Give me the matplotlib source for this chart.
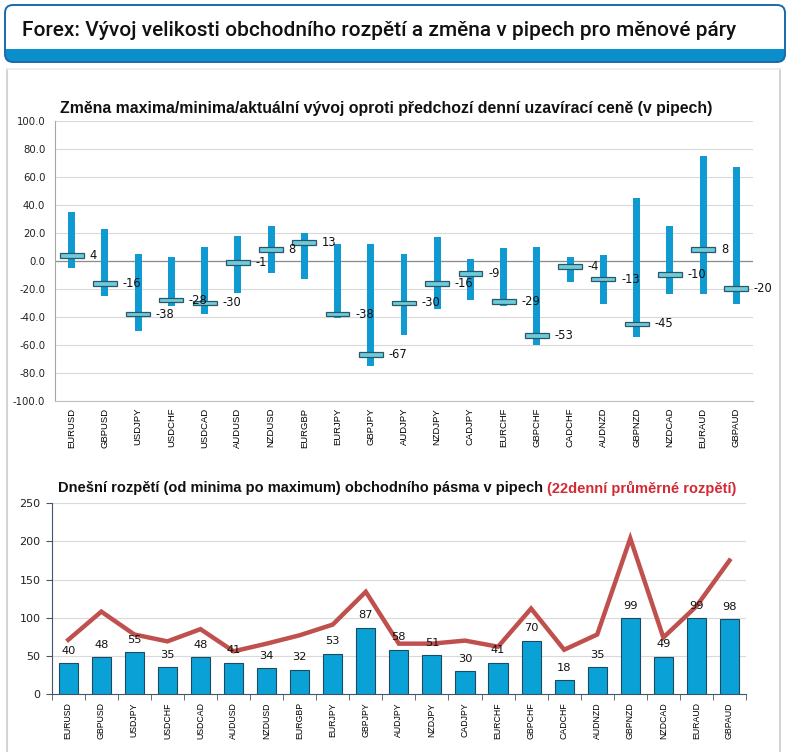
import matplotlib
matplotlib.use('Agg')
import matplotlib.pyplot as plt
from matplotlib.patches import FancyBboxPatch, Rectangle
from matplotlib.lines import Line2D
from matplotlib.transforms import IdentityTransform
import numpy as np

# ---------------- data ----------------
pairs = ["EURUSD", "GBPUSD", "USDJPY", "USDCHF", "USDCAD", "AUDUSD", "NZDUSD",
         "EURGBP", "EURJPY", "GBPJPY", "AUDJPY", "NZDJPY", "CADJPY", "EURCHF",
         "GBPCHF", "CADCHF", "AUDNZD", "GBPNZD", "NZDCAD", "EURAUD", "GBPAUD"]
high_change = [35, 23, 5, 3, 10, 18, 25, 20, 12, 12, 5, 17, 1.5, 9, 10, 3, 4, 45, 25, 75, 67]
low_change = [-5, -25, -50, -32, -38, -23, -9, -13, -41, -75, -53, -34, -28, -32, -60,
              -15, -31, -54, -24, -24, -31]
current_change = [4, -16, -38, -28, -30, -1, 8, 13, -38, -67, -30, -16, -9, -29, -53,
                  -4, -13, -45, -10, 8, -20]
range_today = [40, 48, 55, 35, 48, 41, 34, 32, 53, 87, 58, 51, 30, 41, 70, 18, 35, 99, 49, 99, 98]
avg_range_22 = [71, 108, 78, 69, 85, 56, 66, 77, 91, 134, 66, 66, 70, 62, 112, 58, 78, 204,
                74, 115, 175]
top_yticks = [-100, -80, -60, -40, -20, 0, 20, 40, 60, 80, 100]
bottom_yticks = [0, 50, 100, 150, 200, 250]

main_title = "Forex: Vývoj velikosti obchodního rozpětí a změna v pipech pro měnové páry"
top_title = "Změna maxima/minima/aktuální vývoj oproti předchozí denní uzavírací ceně (v pipech)"
bottom_title_a = "Dnešní rozpětí (od minima po maximum) obchodního pásma v pipech "
bottom_title_b = "(22denní průměrné rozpětí)"

# ---------------- figure ----------------
W, H = 790, 752
fig = plt.figure(figsize=(W / 100, H / 100), dpi=100)
fig.patch.set_facecolor("white")
ident = IdentityTransform()

# header box
hx0, hx1 = 5, 785
htop, hbot = 5, 62
fig.patches.append(FancyBboxPatch((hx0, H - hbot), hx1 - hx0, hbot - htop,
                                  boxstyle="round,pad=0,rounding_size=8",
                                  fc="#0a8fcc", ec="none", transform=ident, figure=fig))
fig.patches.append(FancyBboxPatch((hx0, H - 57), hx1 - hx0, 57 - htop,
                                  boxstyle="round,pad=0,rounding_size=8",
                                  fc="white", ec="none", transform=ident, figure=fig))
fig.patches.append(Rectangle((hx0 + 1, H - 58), hx1 - hx0 - 2, 9,
                             fc="#0a8fcc", ec="none", transform=ident, figure=fig))
fig.patches.append(FancyBboxPatch((hx0, H - hbot), hx1 - hx0, hbot - htop,
                                  boxstyle="round,pad=0,rounding_size=8",
                                  fc="none", ec="#1a6aaa", lw=1.4, transform=ident, figure=fig))

# panel borders
for xx in (7, 780):
    fig.lines.append(Line2D([xx, xx], [0, H - 69], color="#d4d4d4", lw=1.5,
                            transform=ident, figure=fig))
fig.lines.append(Line2D([7, 780], [H - 69, H - 69], color="#ececec", lw=1.2,
                        transform=ident, figure=fig))

renderer = fig.canvas.get_renderer()


def fit_texts(parts, x_left, y_center, target_w, size0, **kw):
    objs = []
    for txt, color in parts:
        t = fig.text(0, 0, txt, color=color, transform=ident, va="center", ha="left",
                     fontsize=size0, **kw)
        objs.append(t)
    total = sum(t.get_window_extent(renderer).width for t in objs)
    scale = target_w / total
    for t in objs:
        t.set_fontsize(size0 * scale)
    x = x_left
    for t in objs:
        t.set_position((x, H - y_center))
        x += t.get_window_extent(renderer).width
    return objs


fit_texts([(main_title, "#111111")], 22, 30, 713, 14, fontweight="medium",
          family=["Roboto", "DejaVu Sans"])
fit_texts([(top_title, "#111111")], 60, 108, 653, 10.5, fontweight="bold",
          family=["Liberation Sans", "DejaVu Sans"])
fit_texts([(bottom_title_a, "#111111"), (bottom_title_b, "#d42a35")], 58, 488, 679, 10.5,
          fontweight="bold", family=["Liberation Sans", "DejaVu Sans"])

x = np.arange(len(pairs))

# ---------------- top chart ----------------
ax1 = fig.add_axes([55 / W, 1 - 401 / H, (753 - 55) / W, (401 - 120.7) / H])
ax1.set_xlim(-0.5, len(pairs) - 0.5)
ax1.set_ylim(-100, 100)
ax1.set_yticks(top_yticks)
ax1.set_yticklabels([f"{v:.1f}" for v in top_yticks])
for v in top_yticks:
    ax1.axhline(v, color="#d9d9d9", lw=0.8, zorder=0)
ax1.axhline(0, color="#8c8c8c", lw=0.9, zorder=1)
hi = np.array(high_change)
lo = np.array(low_change)
ax1.bar(x, hi - lo, bottom=lo, width=0.21, color="#0f9ad2", zorder=2)
cur = np.array(current_change)
ax1.bar(x, 3.4, bottom=cur - 1.7, width=0.72, color="#6ccbdf", edgecolor="#2f5663",
        linewidth=0.9, zorder=3)
for xi, v in zip(x, current_change):
    ax1.text(xi + 0.53, v, f"{v}", va="center", ha="left", fontsize=8.3,
             family="DejaVu Sans", color="#111111", zorder=4)
ax1.set_xticks(x)
ax1.set_xticklabels(pairs, rotation=90, fontsize=6.8, family="Liberation Sans")
ax1.tick_params(axis="x", length=0, pad=5)
ax1.tick_params(axis="y", length=0, pad=7, labelsize=7.3, labelcolor="#222222")
for s in ("top", "right"):
    ax1.spines[s].set_visible(False)
ax1.spines["left"].set_color("#a6a6a6")
ax1.spines["bottom"].set_color("#bfbfbf")
ax1.set_facecolor("none")

# ---------------- bottom chart ----------------
ax2 = fig.add_axes([51.7 / W, 1 - 694 / H, (746 - 51.7) / W, (694 - 503.3) / H])
ax2.set_xlim(-0.5, len(pairs) - 0.5)
ax2.set_ylim(0, 250)
ax2.set_yticks(bottom_yticks)
for v in bottom_yticks[1:]:
    ax2.axhline(v, color="#d9d9d9", lw=0.8, zorder=0)
ax2.bar(x, range_today, width=0.58, color="#0aa2d6", edgecolor="#1d4a60", linewidth=0.8,
        zorder=2)
ax2.plot(x, avg_range_22, color="#c0504d", lw=3.2, zorder=3, solid_joinstyle="miter")
for xi, v in zip(x, range_today):
    ax2.annotate(f"{v}", (xi, v), xytext=(0, 9), textcoords="offset points",
                 ha="center", va="center", fontsize=8.2, family="DejaVu Sans",
                 color="#111111", zorder=4)
ax2.set_xticks(x)
ax2.set_xticklabels(pairs, rotation=90, fontsize=6.3, family="Liberation Sans")
ax2.set_xticks(np.arange(-0.5, len(pairs), 1.0), minor=True)
ax2.tick_params(axis="x", which="major", length=0, pad=6)
ax2.tick_params(axis="x", which="minor", length=4, color="#555555")
ax2.tick_params(axis="y", length=4, pad=4, labelsize=8, color="#555555",
                labelcolor="#222222")
for s in ("top", "right"):
    ax2.spines[s].set_visible(False)
ax2.spines["left"].set_color("#3d5570")
ax2.spines["bottom"].set_color("#3d5570")
ax2.set_facecolor("none")

fig.savefig("out.png", dpi=100)
